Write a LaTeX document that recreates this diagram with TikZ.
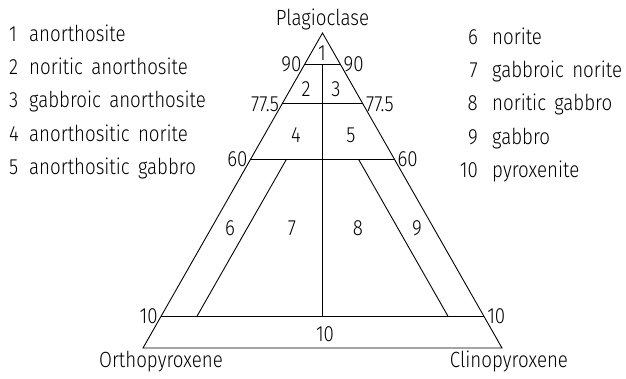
\documentclass[tikz,border=0pt]{standalone}
\usepackage{fontspec}
\setmainfont{Fira Sans Light}[FakeStretch=0.85, WordSpace=1.6]
\usetikzlibrary{calc, positioning}

\tikzset{
    edge/.style={line width=0.9pt, line join=miter},
    lbl/.style={font=\fontsize{22}{25}\selectfont, inner sep=3pt},
    legend/.style={font=\fontsize{22}{25}\selectfont, inner sep=0pt},
}

\begin{document}
\begin{tikzpicture}[x=1pt, y=-1pt]
    \useasboundingbox (0,0) rectangle (626,378);
    % corners of the triangle
    \coordinate (O) at (143,348);
    \coordinate (C) at (502,348);
    \coordinate (P) at (322.5,33);
    \draw[edge] (O) -- (P) -- (C) -- cycle;
    % plagioclase levels
    \foreach \nm/\lvl/\t in {a/90/0.1, b/77.5/0.225, c/60/0.4, d/10/0.9} {
        \coordinate (L\nm) at ($(P)!\t!(O)$);
        \coordinate (R\nm) at ($(P)!\t!(C)$);
        \draw[edge] (L\nm) -- (R\nm);
        \node[lbl, anchor=east] (tl\nm) at (L\nm) {\lvl};
        \node[lbl, anchor=west] (tr\nm) at (R\nm) {\lvl};
    }
    % dividing lines
    \draw[edge] ($(La)!0.5!(Ra)$) -- ($(Ld)!0.5!(Rd)$);
    \draw[edge] ($(Lc)!0.25!(Rc)$) -- ($(Ld)!{1/9}!(Rd)$);
    \draw[edge] ($(Rc)!0.25!(Lc)$) -- ($(Rd)!{1/9}!(Ld)$);
    % end members
    \node[lbl, anchor=south] (plag) at (P) {Plagioclase};
    \node[lbl, anchor=north, xshift=18pt] (opx) at (O) {Orthopyroxene};
    \node[lbl, anchor=north, xshift=7pt] (cpx) at (C) {Clinopyroxene};
    % field numbers
    \node[lbl] (f1) at (322,53) {1};
    \node[lbl] (f2) at (306,89) {2};
    \node[lbl] (f3) at (336,89) {3};
    \node[lbl] (f4) at (296,135) {4};
    \node[lbl] (f5) at (351,135) {5};
    \node[lbl] (f6) at (230,228) {6};
    \node[lbl] (f7) at (292,228) {7};
    \node[lbl] (f8) at (358,228) {8};
    \node[lbl] (f9) at (417,228) {9};
    \node[lbl] (f10) at (325,334) {10};
    % legend
    \foreach \n/\txt [count=\i] in {1/anorthosite, 2/noritic anorthosite, 3/gabbroic anorthosite, 4/anorthositic norite, 5/anorthositic gabbro} {
        \node[legend, anchor=base west] (ln\n) at (9, 8.3+33.2*\i) {\n};
        \node[legend, anchor=base west] (lt\n) at (29, 8.3+33.2*\i) {\txt};
    }
    \foreach \n/\txt [count=\i] in {6/norite, 7/gabbroic norite, 8/noritic gabbro, 9/gabbro, 10/pyroxenite} {
        \node[legend, anchor=base east] (rn\n) at (478, 11.3+33.2*\i) {\n};
        \node[legend, anchor=base west] (rt\n) at (492, 11.3+33.2*\i) {\txt};
    }
\end{tikzpicture}
\end{document}
